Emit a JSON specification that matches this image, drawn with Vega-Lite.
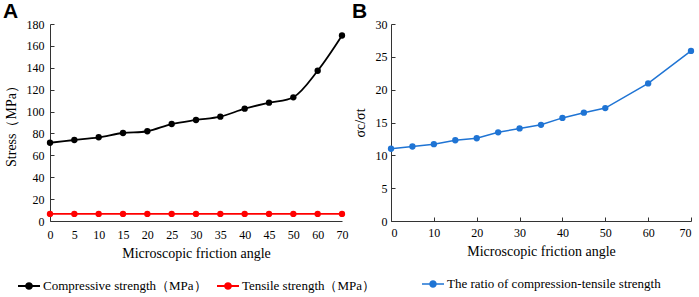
{
  "$schema": "https://vega.github.io/schema/vega-lite/v6.json",
  "background": "white",
  "padding": {"left": 3, "top": 1, "right": 5, "bottom": 0},
  "spacing": 49,
  "bounds": "flush",
  "resolve": {
    "scale": {"stroke": "independent", "fill": "independent"},
    "legend": {"stroke": "independent", "fill": "independent"}
  },
  "config": {
    "view": {"stroke": null},
    "font": "Liberation Serif",
    "axis": {
      "grid": false,
      "domainColor": "#333333",
      "tickColor": "#333333",
      "labelColor": "#000000",
      "titleColor": "#000000",
      "labelFont": "Liberation Serif",
      "titleFont": "Liberation Serif",
      "labelFontSize": 12,
      "titleFontSize": 14,
      "titleFontWeight": "normal",
      "tickSize": -4
    },
    "legend": {
      "labelFont": "Liberation Serif",
      "labelFontSize": 13,
      "labelColor": "#000000",
      "labelLimit": 0,
      "layout": {"bottom": {"anchor": "middle"}}
    },
    "title": {"font": "Liberation Sans", "fontSize": 21, "fontWeight": "bold", "anchor": "start", "frame": "group", "color": "#000000"}
  },
  "datasets": {
    "strength": [
      {"angle": 0, "type": "Compressive strength（MPa）", "value": 71.5},
      {"angle": 5, "type": "Compressive strength（MPa）", "value": 74},
      {"angle": 10, "type": "Compressive strength（MPa）", "value": 76.5},
      {"angle": 15, "type": "Compressive strength（MPa）", "value": 80.4},
      {"angle": 20, "type": "Compressive strength（MPa）", "value": 82},
      {"angle": 25, "type": "Compressive strength（MPa）", "value": 88.6},
      {"angle": 30, "type": "Compressive strength（MPa）", "value": 92.3},
      {"angle": 35, "type": "Compressive strength（MPa）", "value": 95.3},
      {"angle": 40, "type": "Compressive strength（MPa）", "value": 102.6},
      {"angle": 45, "type": "Compressive strength（MPa）", "value": 108.1},
      {"angle": 50, "type": "Compressive strength（MPa）", "value": 113},
      {"angle": 60, "type": "Compressive strength（MPa）", "value": 137.3},
      {"angle": 70, "type": "Compressive strength（MPa）", "value": 169.5},
      {"angle": 0, "type": "Tensile strength（MPa）", "value": 6.5},
      {"angle": 5, "type": "Tensile strength（MPa）", "value": 6.5},
      {"angle": 10, "type": "Tensile strength（MPa）", "value": 6.5},
      {"angle": 15, "type": "Tensile strength（MPa）", "value": 6.5},
      {"angle": 20, "type": "Tensile strength（MPa）", "value": 6.5},
      {"angle": 25, "type": "Tensile strength（MPa）", "value": 6.5},
      {"angle": 30, "type": "Tensile strength（MPa）", "value": 6.5},
      {"angle": 35, "type": "Tensile strength（MPa）", "value": 6.5},
      {"angle": 40, "type": "Tensile strength（MPa）", "value": 6.5},
      {"angle": 45, "type": "Tensile strength（MPa）", "value": 6.5},
      {"angle": 50, "type": "Tensile strength（MPa）", "value": 6.5},
      {"angle": 60, "type": "Tensile strength（MPa）", "value": 6.5},
      {"angle": 70, "type": "Tensile strength（MPa）", "value": 6.5}
    ],
    "ratioData": [
      {"angle": 0, "series": "The ratio of compression-tensile strength", "rv": 11.0},
      {"angle": 5, "series": "The ratio of compression-tensile strength", "rv": 11.35},
      {"angle": 10, "series": "The ratio of compression-tensile strength", "rv": 11.7},
      {"angle": 15, "series": "The ratio of compression-tensile strength", "rv": 12.3},
      {"angle": 20, "series": "The ratio of compression-tensile strength", "rv": 12.6},
      {"angle": 25, "series": "The ratio of compression-tensile strength", "rv": 13.5},
      {"angle": 30, "series": "The ratio of compression-tensile strength", "rv": 14.1},
      {"angle": 35, "series": "The ratio of compression-tensile strength", "rv": 14.65},
      {"angle": 40, "series": "The ratio of compression-tensile strength", "rv": 15.7},
      {"angle": 45, "series": "The ratio of compression-tensile strength", "rv": 16.5},
      {"angle": 50, "series": "The ratio of compression-tensile strength", "rv": 17.2},
      {"angle": 60, "series": "The ratio of compression-tensile strength", "rv": 20.95},
      {"angle": 70, "series": "The ratio of compression-tensile strength", "rv": 25.9}
    ]
  },
  "hconcat": [
    {
      "title": {"text": "A", "offset": -4, "dx": -47},
      "width": 292,
      "height": 197,
      "data": {"name": "strength"},
      "encoding": {
        "x": {
          "field": "angle", "type": "ordinal",
          "scale": {"type": "point", "padding": 0},
          "axis": {"title": "Microscopic friction angle", "labelAngle": 0, "ticks": false, "labelPadding": 8, "titlePadding": 6, "labelFont": "Liberation Serif"}
        },
        "y": {
          "field": "value", "type": "quantitative",
          "scale": {"domain": [0, 180], "nice": false},
          "axis": {"title": "Stress（MPa）", "values": [0,20,40,60,80,100,120,140,160,180], "labelPadding": 10, "titlePadding": 8, "labelFont": "Liberation Serif"}
        }
      },
      "layer": [
        {
          "mark": {"type": "line", "strokeWidth": 1.8, "interpolate": "catmull-rom"},
          "encoding": {
            "stroke": {
              "field": "type", "type": "nominal",
              "scale": {"domain": ["Compressive strength（MPa）", "Tensile strength（MPa）"], "range": ["#000000", "#ff0000"]},
              "legend": {"orient": "bottom", "title": null, "direction": "horizontal", "symbolType": "M-1,0L1,0M-0.27,0A0.27,0.27 0 1,0 0.27,0A0.27,0.27 0 1,0 -0.27,0Z", "symbolSize": 484, "symbolStrokeWidth": 1.8, "columnPadding": 6, "labelOffset": 2, "offset": 14, "labelFont": "Liberation Serif", "labelLimit": 0}
            }
          }
        },
        {
          "mark": {"type": "point", "filled": true, "size": 40, "opacity": 1, "strokeWidth": 0},
          "encoding": {
            "fill": {
              "field": "type", "type": "nominal",
              "scale": {"domain": ["Compressive strength（MPa）", "Tensile strength（MPa）"], "range": ["#000000", "#ff0000"]},
              "legend": {"orient": "bottom", "title": null, "direction": "horizontal", "symbolType": "M-1,0L1,0M-0.27,0A0.27,0.27 0 1,0 0.27,0A0.27,0.27 0 1,0 -0.27,0Z", "symbolSize": 484, "symbolStrokeWidth": 1.8, "columnPadding": 6, "labelOffset": 2, "offset": 14, "labelFont": "Liberation Serif", "labelLimit": 0}
            }
          }
        }
      ]
    },
    {
      "title": {"text": "B", "offset": -4, "dx": -39},
      "width": 300,
      "height": 197,
      "data": {"name": "ratioData"},
      "encoding": {
        "x": {
          "field": "angle", "type": "quantitative",
          "scale": {"domain": [0, 70], "nice": false},
          "axis": {"title": "Microscopic friction angle", "values": [0,10,20,30,40,50,60,70], "labelPadding": 10, "titlePadding": 6, "labelFont": "Liberation Serif"}
        },
        "y": {
          "field": "rv", "type": "quantitative",
          "scale": {"domain": [0, 30], "nice": false},
          "axis": {"title": "σc/σt", "values": [0,5,10,15,20,25,30], "labelPadding": 8, "titlePadding": 8, "labelFont": "Liberation Serif"}
        }
      },
      "layer": [
        {
          "mark": {"type": "line", "strokeWidth": 1.5},
          "encoding": {
            "stroke": {
              "field": "series", "type": "nominal",
              "scale": {"domain": ["The ratio of compression-tensile strength"], "range": ["#1f74d4"]},
              "legend": {"orient": "bottom", "title": null, "direction": "horizontal", "symbolType": "M-1,0L1,0M-0.27,0A0.27,0.27 0 1,0 0.27,0A0.27,0.27 0 1,0 -0.27,0Z", "symbolSize": 484, "symbolStrokeWidth": 1.5, "columnPadding": 6, "labelOffset": 2, "offset": 14, "labelFont": "Liberation Serif", "labelLimit": 0}
            }
          }
        },
        {
          "mark": {"type": "point", "filled": true, "size": 40, "opacity": 1, "strokeWidth": 0},
          "encoding": {
            "fill": {
              "field": "series", "type": "nominal",
              "scale": {"domain": ["The ratio of compression-tensile strength"], "range": ["#1f74d4"]},
              "legend": {"orient": "bottom", "title": null, "direction": "horizontal", "symbolType": "M-1,0L1,0M-0.27,0A0.27,0.27 0 1,0 0.27,0A0.27,0.27 0 1,0 -0.27,0Z", "symbolSize": 484, "symbolStrokeWidth": 1.5, "columnPadding": 6, "labelOffset": 2, "offset": 14, "labelFont": "Liberation Serif", "labelLimit": 0}
            }
          }
        }
      ]
    }
  ]
}
